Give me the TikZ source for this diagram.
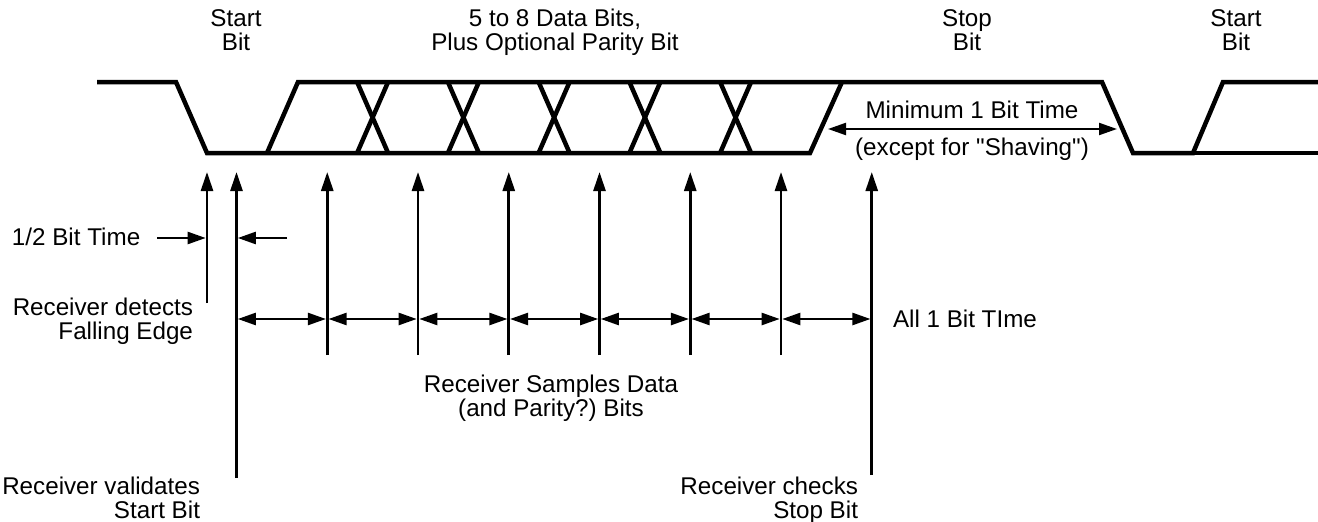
\documentclass[tikz,border=0pt]{standalone}
\usepackage{fontspec}
\setmainfont{Liberation Sans}[Ligatures=TeXOff]
\usetikzlibrary{arrows.meta}
\frenchspacing
\begin{document}
\begin{tikzpicture}[x=1pt,y=-1pt,
  wave/.style={line width=4.5pt},
  vline/.style={line width=2.6pt,-{Triangle[length=19pt,width=12pt]}},
  dim/.style={line width=2.4pt,{Triangle[length=18pt,width=12pt]}-{Triangle[length=18pt,width=12pt]}},
  half/.style={line width=2.4pt,-{Triangle[length=18pt,width=12pt]}},
  lbl/.style={font=\fontsize{24.2}{23.5}\selectfont, inner sep=0pt, outer sep=0pt}]
\useasboundingbox (0,0) rectangle (1318,522);

% waveform
\draw[wave] (97,82) -- (176,82) -- (207,153) -- (810,153) -- (842,82);
\draw[wave] (267,153) -- (298,82) -- (1102,82) -- (1133,153) -- (1193,153) -- (1223,82) -- (1318,82);
\draw[wave] (1193,153) -- (1318,153);
\foreach \c in {372.6,463.4,554.1,644.9,735.6} {
  \draw[wave] (\c-15.5,82) -- (\c+15.5,153);
  \draw[wave] (\c-15.5,153) -- (\c+15.5,82);
}

% falling-edge detection arrow
\coordinate (fT) at (207,172);
\coordinate (fB) at (207,303);
\draw[vline] (fB) -- (fT);

% sampling arrows
\foreach \i in {0,...,7} {
  \pgfmathsetmacro{\xx}{236.5+90.75*\i}
  \ifnum\i=0 \def\yb{478}\else\ifnum\i=7 \def\yb{475}\else\def\yb{355}\fi\fi
  \coordinate (sT\i) at (\xx,172);
  \coordinate (sB\i) at (\xx,\yb);
  \coordinate (sL\i) at (\xx+1.3,319);
  \coordinate (sR\i) at (\xx-1.3,319);
  \draw[vline] (sB\i) -- (sT\i);
}
\foreach \i [evaluate=\i as \j using int(\i+1)] in {0,...,6} {
  \draw[dim] (sL\i) -- (sR\j);
}

% half bit time arrows
\coordinate (hA) at (157,238);
\coordinate (hAe) at (205.7,238);
\coordinate (hB) at (287,238);
\coordinate (hBe) at (237.8,238);
\draw[half] (hA) -- (hAe);
\draw[half] (hB) -- (hBe);

% minimum stop bit arrow
\coordinate (mL) at (828,129);
\coordinate (mR) at (1117,129);
\draw[dim, line width=2.2pt] (mL) -- (mR);

% labels (base anchor = baseline of last line)
\node[lbl, align=center, anchor=base] (lStart1) at (236,50) {Start\\Bit};
\node[lbl, align=center, anchor=base] (lData) at (555,50) {5 to 8 Data Bits,\\Plus Optional Parity Bit};
\node[lbl, align=center, anchor=base] (lStop) at (967,50) {Stop\\Bit};
\node[lbl, align=center, anchor=base] (lStart2) at (1236,50) {Start\\Bit};
\node[lbl, anchor=base] (lMin) at (972,118) {Minimum 1 Bit Time};
\node[lbl, anchor=base] (lExc) at (972,155) {(except for "Shaving")};
\node[lbl, anchor=base west] (lHalf) at (12,245) {1/2 Bit Time};
\node[lbl, align=right, anchor=base east] (lDetect) at (193,339) {Receiver detects\\Falling Edge};
\node[lbl, anchor=base west] (lAll) at (893,327) {All 1 Bit TIme};
\node[lbl, align=center, anchor=base] (lSamples) at (551,416) {Receiver Samples Data\\(and Parity?) Bits};
\node[lbl, align=right, anchor=base east] (lValid) at (200,518) {Receiver validates\\Start Bit};
\node[lbl, align=right, anchor=base east] (lChecks) at (858,518) {Receiver checks\\Stop Bit};
\end{tikzpicture}
\end{document}
